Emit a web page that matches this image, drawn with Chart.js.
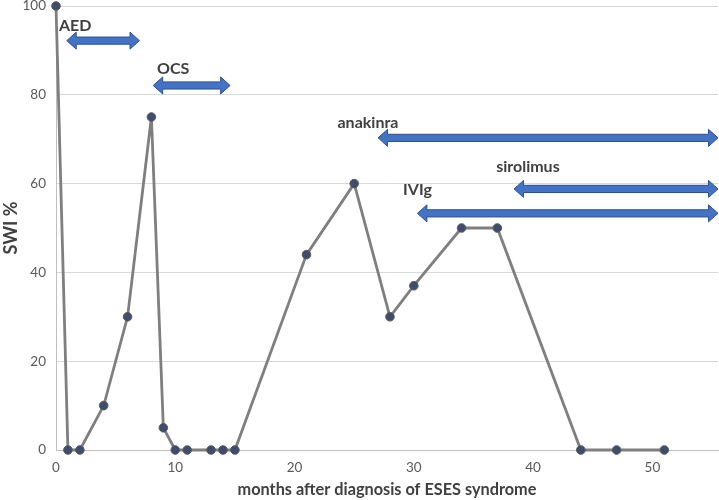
<!DOCTYPE html>
<html><head><meta charset="utf-8">
<script src="https://cdn.jsdelivr.net/npm/chart.js@4"></script>
<style>html,body{margin:0;padding:0;background:#fff}#wrap{width:719px;height:500px}</style>
</head><body><div id="wrap"><canvas id="c" width="719" height="500"></canvas></div>
<script>
const months = [0,1,2,4,6,8,9,10,11,13,14,15,21,25,28,30,34,37,44,47,51];
const swi    = [100,0,0,10,30,75,5,0,0,0,0,0,44,60,30,37,50,50,0,0,0];
const xTicks = [0,10,20,30,40,50];
const yTicks = [0,20,40,60,80,100];
// treatments: name, start month, end month, arrow level (SWI %), label x, label y
const therapyNames  = ['AED','OCS','anakinra','sirolimus','IVIg'];
const therapyStart  = [0.9, 8.15, 27.0, 38.4, 30.3];
const therapyEnd    = [7.0, 14.6, 55.5, 55.5, 55.5];
const therapyLevel  = [92.2, 82.1, 70.3, 58.8, 53.3];
const labelX        = [0.25, 8.47, 23.6, 36.9, 29.1];
const labelY        = [95.5, 85.8, 73.6, 63.8, 58.6];

const FONT = 'Lato, "Open Sans", sans-serif';

const arrows = {
  id:'arrows',
  afterDatasetsDraw(chart){
    const {ctx, scales:{x,y}} = chart;
    ctx.save();
    for(let i=0;i<therapyNames.length;i++){
      const x1 = x.getPixelForValue(therapyStart[i]);
      const x2 = x.getPixelForValue(therapyEnd[i]);
      const yc = y.getPixelForValue(therapyLevel[i]);
      const hl = 9.5, hh = 8.5, sh = 3.6;
      ctx.beginPath();
      ctx.moveTo(x1, yc);
      ctx.lineTo(x1+hl, yc-hh);
      ctx.lineTo(x1+hl, yc-sh);
      ctx.lineTo(x2-hl, yc-sh);
      ctx.lineTo(x2-hl, yc-hh);
      ctx.lineTo(x2, yc);
      ctx.lineTo(x2-hl, yc+hh);
      ctx.lineTo(x2-hl, yc+sh);
      ctx.lineTo(x1+hl, yc+sh);
      ctx.lineTo(x1+hl, yc+hh);
      ctx.closePath();
      ctx.fillStyle = '#4472C4';
      ctx.fill();
      ctx.lineWidth = 1;
      ctx.strokeStyle = '#2F528F';
      ctx.stroke();
      ctx.font = 'bold 16px ' + FONT;
      ctx.fillStyle = '#404040';
      ctx.textAlign = 'left';
      ctx.textBaseline = 'middle';
      ctx.fillText(therapyNames[i], x.getPixelForValue(labelX[i]), y.getPixelForValue(labelY[i]));
    }
    ctx.restore();
  }
};

new Chart(document.getElementById('c'), {
  type:'line',
  data:{
    datasets:[{
      data: months.map((m,i)=>({x:m, y:swi[i]})),
      borderColor:'#7f7f7f',
      borderWidth:2.8,
      pointRadius:4.3,
      pointHoverRadius:4.3,
      pointBackgroundColor:'#3e4d6e',
      pointBorderColor:'#5a5a5a',
      pointBorderWidth:1,
      tension:0,
      clip:false
    }]
  },
  options:{
    responsive:false,
    animation:false,
    layout:{autoPadding:false, padding:{top:0,right:1,left:0,bottom:0}},
    plugins:{legend:{display:false},tooltip:{enabled:false}},
    scales:{
      x:{
        type:'linear', min:0, max:55.5,
        afterBuildTicks(s){ s.ticks = xTicks.map(v=>({value:v})); },
        afterFit(s){ s.height = 50; },
        grid:{display:false, drawTicks:false},
        border:{display:true, color:'#bfbfbf', width:1},
        ticks:{color:'#595959', font:{family:FONT, size:13.5}, padding:10},
        title:{display:true, text:'months after diagnosis of ESES syndrome', color:'#404040',
               font:{family:FONT, size:16.3, weight:'bold'}, padding:{top:0,bottom:0}}
      },
      y:{
        min:0, max:100,
        afterBuildTicks(s){ s.ticks = yTicks.map(v=>({value:v})); },
        afterFit(s){ s.width = 56; s.paddingTop = 6; },
        grid:{color:'#d9d9d9', drawTicks:false, lineWidth:1},
        border:{display:true, color:'#bfbfbf', width:1},
        ticks:{color:'#595959', font:{family:FONT, size:13.5}, padding:10},
        title:{display:true, text:'SWI %', color:'#404040',
               font:{family:FONT, size:18, weight:'bold'}, padding:{top:0,bottom:4}}
      }
    }
  },
  plugins:[arrows]
});
</script>
</body></html>
